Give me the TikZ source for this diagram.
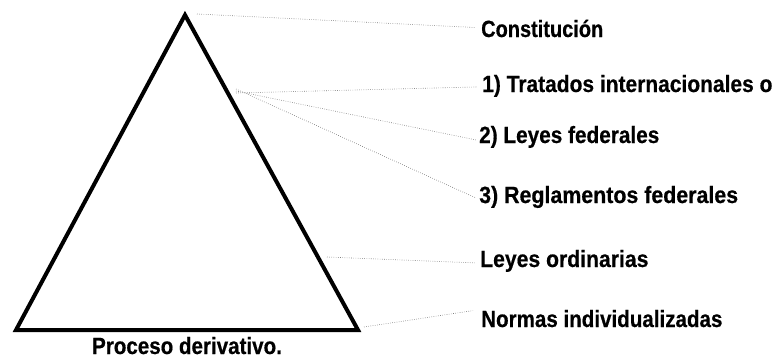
\documentclass[tikz,border=0pt]{standalone}
\usepackage{fontspec}
\setmainfont{Liberation Sans}
\newfontfamily\lblfont{Liberation Sans Bold}[FakeStretch=0.85,FakeBold=0.5]
\newcommand{\lblwide}[2]{\scalebox{#1}[1]{#2}}
\begin{document}
\begin{tikzpicture}[x=1pt,y=-1pt,
  lbl/.style={anchor=base west,inner sep=0pt,font=\lblfont\fontsize{23.5}{28}\selectfont},
  dotline/.style={draw=black!55,line width=0.6pt,dash pattern=on 0.6pt off 1.6pt},
  tri/.style={draw=black,line width=4pt,line join=miter}]
\useasboundingbox (0,0) rectangle (779,360);
% triangle corners
\coordinate (apex) at (185,15);
\coordinate (bl) at (16,330);
\coordinate (br) at (358,330);
\draw[tri] (apex) -- (bl) -- (br) -- cycle;
% connector origins
\coordinate (o0) at (197,14);
\coordinate (of) at (236,93);
\coordinate (o4) at (327,257);
\coordinate (o5) at (364,327);
% labels
\node[lbl] (c0) at (481,37) {Constitución};
\node[lbl] (c1) at (482,92) {\lblwide{1.05}{1) Tratados internacionales o}};
\node[lbl] (c2) at (479,143) {\lblwide{1.04}{2) Leyes federales}};
\node[lbl] (c3) at (479,203) {\lblwide{1.07}{3) Reglamentos federales}};
\node[lbl] (c4) at (480,267) {\lblwide{1.06}{Leyes ordinarias}};
\node[lbl] (c5) at (481,327) {\lblwide{1.03}{Normas individualizadas}};
\node[lbl,anchor=base] (pd) at (187,354) {\lblwide{1.03}{Proceso derivativo.}};
% dotted connectors
\draw[dotline] (o0) -- ([xshift=-6pt,yshift=1pt]c0.west);
\draw[dotline] (of) -- ([xshift=-5pt,yshift=-1pt]c1.west);
\draw[dotline] ([yshift=2pt]of) -- ([xshift=-3pt,yshift=-3pt]c2.west);
\draw[dotline] ([yshift=4pt]of) -- ([xshift=-3pt,yshift=-1pt]c3.west);
\draw[dotline] (o4) -- ([xshift=-4pt,yshift=-2pt]c4.west);
\draw[dotline] (o5) -- ([xshift=-8pt,yshift=8pt]c5.west);
\end{tikzpicture}
\end{document}
